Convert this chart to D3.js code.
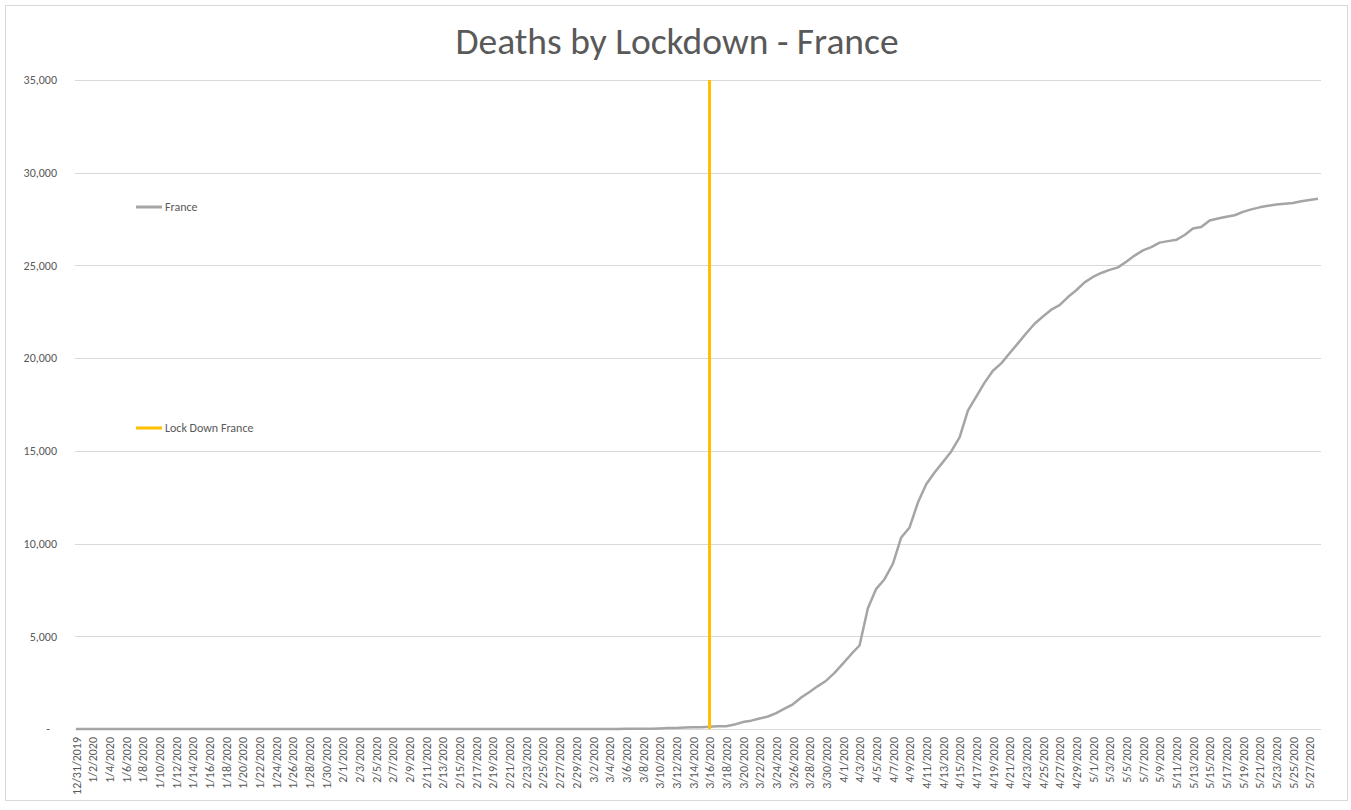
<!DOCTYPE html>
<html>
<head>
<meta charset="utf-8">
<script src="https://cdn.jsdelivr.net/npm/d3@7"></script>
<style>
  body { margin: 0; background: #fff; }
  svg { display: block; }
  text { font-family: Calibri, Carlito, "Open Sans", sans-serif; fill: #595959; }
</style>
</head>
<body>
<svg id="chart" width="1351" height="810"></svg>
<script>
// categories: one per day, 12/31/2019 .. 5/28/2020
const startDate = new Date(2019, 11, 31);
const endDate = new Date(2020, 4, 29);
const fmtDay = d3.timeFormat("%-m/%-d/%Y");
const categories = d3.timeDay.range(startDate, endDate).map(fmtDay);

// cumulative deaths, France
const franceDeaths = [
  0, 0, 0, 0, 0, 0, 0, 0, 0, 0, 0, 0, 0, 0, 0, 0, 0, 0, 0, 0,
  0, 0, 0, 0, 0, 0, 0, 0, 0, 0, 0, 0, 0, 0, 0, 0, 0, 0, 0, 0,
  0, 0, 0, 0, 0, 0, 1, 1, 1, 1, 1, 1, 1, 1, 1, 1, 1, 2, 2, 2,
  2, 2, 3, 4, 4, 6, 9, 11, 19, 19, 33, 48, 48, 79, 91, 91, 127, 148, 148, 244,
  372, 450, 562, 674, 860, 1100, 1331, 1696, 1995, 2314, 2606, 3024, 3523, 4032, 4503, 6507, 7560, 8078, 8911, 10328,
  10869, 12210, 13197, 13832, 14393, 14967, 15729, 17167, 17920, 18681, 19323, 19718, 20265, 20796, 21340, 21856, 22245, 22614, 22856, 23293,
  23660, 24087, 24376, 24594, 24760, 24895, 25201, 25531, 25809, 25987, 26230, 26310, 26380, 26643, 26991, 27074, 27425, 27529, 27625, 27707,
  27889, 28022, 28132, 28215, 28289, 28332, 28367, 28460, 28530, 28596
];

// lockdown marker: vertical line on this date
const lockdownDate = "3/16/2020";
const lockdownValues = [0, 35000];

const yTicks = [0, 5000, 10000, 15000, 20000, 25000, 30000, 35000];
const seriesNames = ["France", "Lock Down France"];
const seriesColors = ["#a5a5a5", "#ffc000"];

const svg = d3.select("#chart");
const margin = { top: 80, right: 30, bottom: 81, left: 75 };
const W = 1351, H = 810;

// outer chart border
svg.append("rect")
  .attr("x", 5.5).attr("y", 5.5)
  .attr("width", 1342).attr("height", 795)
  .attr("fill", "#fff")
  .attr("stroke", "#d9d9d9");

svg.append("text")
  .attr("x", 677).attr("y", 54)
  .attr("text-anchor", "middle")
  .style("font-size", "37.5px")
  .text("Deaths by Lockdown - France");

const x = d3.scalePoint()
  .domain(categories)
  .range([76, 1318]);

const y = d3.scaleLinear()
  .domain([0, 35000])
  .range([H - margin.bottom, margin.top]);

// gridlines
svg.append("g")
  .selectAll("line")
  .data(yTicks.slice(1))
  .join("line")
  .attr("x1", margin.left).attr("x2", 1321)
  .attr("y1", d => Math.round(y(d)) + 0.5)
  .attr("y2", d => Math.round(y(d)) + 0.5)
  .attr("stroke", "#d9d9d9");

// y axis labels
const yAxis = svg.append("g")
  .attr("transform", `translate(${margin.left}, 0)`)
  .call(d3.axisLeft(y)
    .tickValues(yTicks)
    .tickSize(0)
    .tickPadding(18)
    .tickFormat(d => d === 0 ? "-" : d3.format(",")(d)));
yAxis.select(".domain").remove();
yAxis.selectAll("text")
  .style("font-size", "12px")
  .attr("fill", "#595959")
  .attr("dx", d => d === 0 ? -7 : 0);

// x axis
const xAxis = svg.append("g")
  .attr("transform", `translate(0, ${y(0)})`)
  .call(d3.axisBottom(x)
    .tickValues(categories.filter((d, i) => i % 2 === 0))
    .tickSize(0)
    .tickPadding(0));
xAxis.select(".domain")
  .attr("d", `M${margin.left},0.5H1321`)
  .attr("stroke", "#d9d9d9");
xAxis.selectAll("text")
  .style("font-size", "12px")
  .attr("fill", "#595959")
  .attr("text-anchor", "end")
  .attr("transform", "rotate(-90)")
  .attr("x", -8)
  .attr("y", 0)
  .attr("dy", "0.35em");

// France line
const line = d3.line()
  .x((d, i) => x(categories[i]))
  .y(d => y(d));

svg.append("path")
  .datum(franceDeaths)
  .attr("fill", "none")
  .attr("stroke", seriesColors[0])
  .attr("stroke-width", 2.5)
  .attr("stroke-linejoin", "round")
  .attr("d", line);

// lockdown line
svg.append("path")
  .datum(lockdownValues)
  .attr("fill", "none")
  .attr("stroke", seriesColors[1])
  .attr("stroke-width", 3)
  .attr("d", d3.line().x(() => x(lockdownDate)).y(d => y(d)));

// legend
const legendY = [207, 428];
const legend = svg.append("g")
  .selectAll("g")
  .data(seriesNames)
  .join("g")
  .attr("transform", (d, i) => `translate(136, ${legendY[i]})`);
legend.append("line")
  .attr("x1", 0).attr("x2", 26)
  .attr("stroke", (d, i) => seriesColors[i])
  .attr("stroke-width", 3);
legend.append("text")
  .attr("x", 29).attr("dy", "0.35em")
  .style("font-size", "12px")
  .text(d => d);
</script>
</body>
</html>
